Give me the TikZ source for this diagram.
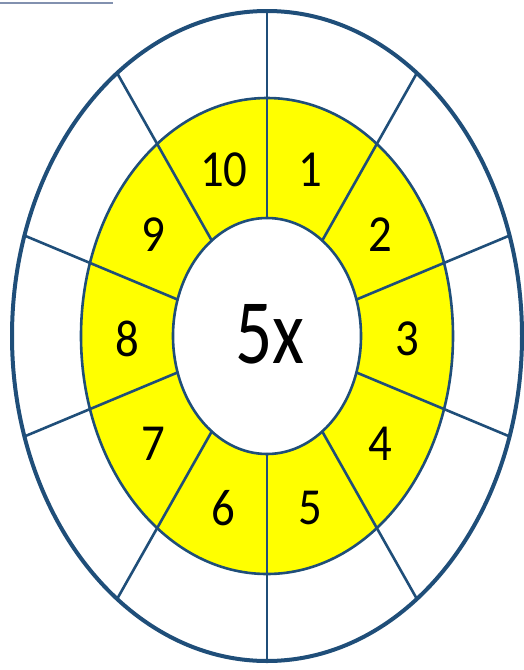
\documentclass[tikz,border=0pt]{standalone}
\usepackage{fontspec}
\setmainfont{Carlito}
\definecolor{ringblue}{RGB}{31,78,121}
\definecolor{ringyellow}{RGB}{255,255,0}
\definecolor{topline}{RGB}{130,145,175}
\begin{document}
\begin{tikzpicture}[x=1pt,y=-1pt,line join=round,line cap=round,
  spoke/.style={draw=ringblue,line width=2.6pt},
  num/.style={font=\fontsize{52}{52}\selectfont,inner sep=0pt,xscale=0.9},
  big/.style={font=\fontsize{92}{92}\selectfont,inner sep=0pt,xscale=0.8}]
\useasboundingbox (0,0) rectangle (524,670);
\coordinate (c) at (267,336);
\draw[topline,line width=1.5pt,line cap=butt] (0,3) -- (113,3);
\fill[ringyellow] (c) ellipse [x radius=186,y radius=238];
\fill[white] (c) ellipse [x radius=94,y radius=118];
\foreach \a in {18,54,...,342}
  \draw[spoke] ({267+94*cos(\a)},{336-118*sin(\a)}) -- ({267+255*cos(\a)},{336-325*sin(\a)});
\draw[ringblue,line width=2.6pt] (c) ellipse [x radius=186,y radius=238];
\draw[ringblue,line width=2.6pt] (c) ellipse [x radius=94,y radius=118];
\draw[ringblue,line width=4pt] (c) ellipse [x radius=255,y radius=325];
\foreach \k in {1,...,10}
  \node[num] (n\k) at ({267+140*cos(72-36*(\k-1))},{339-178*sin(72-36*(\k-1))}) {\k};
\node[big] (centre) at (270,334) {5x};
\end{tikzpicture}
\end{document}
